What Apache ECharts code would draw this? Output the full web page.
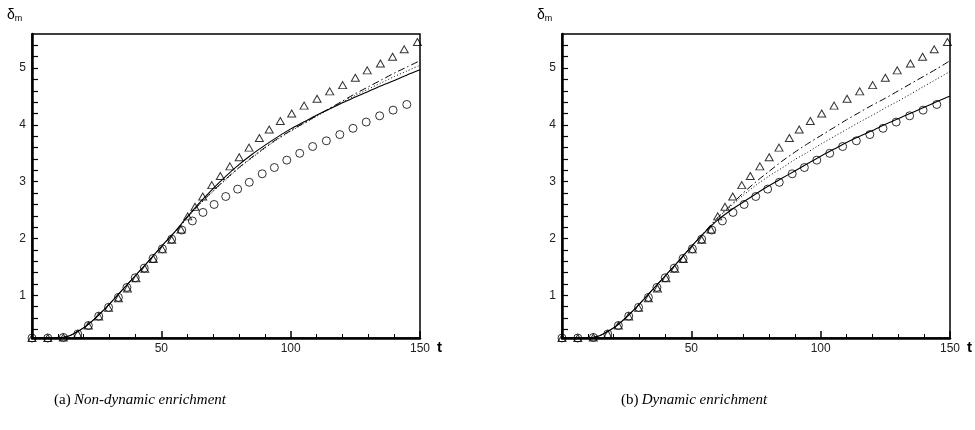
<!DOCTYPE html>
<html>
<head>
<meta charset="utf-8">
<script src="https://cdn.jsdelivr.net/npm/echarts@6/dist/echarts.min.js"></script>
<style>html,body{margin:0;padding:0;background:#fff;}#c{width:975px;height:430px;}</style>
</head>
<body>
<div id="c"></div>
<script>
// ---- data ----
const tLine = [0,5,10,12,15,20,25,30,35,40,45,50,55,60,65,70,75,80,85,90,95,100,105,110,115,120,125,130,135,140,145,150];
// (a) Non-dynamic enrichment
const aSolid   = [0.25,0.25,0.25,0.26,0.30,0.43,0.62,0.85,1.10,1.35,1.60,1.86,2.11,2.38,2.64,2.88,3.10,3.30,3.48,3.64,3.79,3.93,4.05,4.17,4.28,4.39,4.49,4.59,4.69,4.78,4.88,4.97];
const aDotted  = [0.25,0.25,0.25,0.26,0.30,0.43,0.62,0.85,1.10,1.35,1.60,1.86,2.10,2.36,2.61,2.83,3.04,3.24,3.42,3.59,3.75,3.89,4.02,4.15,4.28,4.40,4.52,4.63,4.74,4.85,4.95,5.05];
const aDashDot = [0.25,0.25,0.25,0.26,0.30,0.43,0.62,0.85,1.10,1.35,1.60,1.86,2.10,2.37,2.62,2.84,3.05,3.25,3.43,3.60,3.76,3.90,4.03,4.16,4.29,4.42,4.55,4.67,4.79,4.91,5.02,5.13];
// (b) Dynamic enrichment
const bSolid   = [0.25,0.25,0.25,0.26,0.30,0.43,0.62,0.85,1.10,1.35,1.60,1.86,2.10,2.32,2.49,2.64,2.79,2.93,3.06,3.19,3.32,3.45,3.57,3.69,3.80,3.90,4.01,4.11,4.21,4.31,4.41,4.51];
const bDotted  = [0.25,0.25,0.25,0.26,0.30,0.43,0.62,0.85,1.10,1.35,1.60,1.86,2.11,2.35,2.56,2.76,2.94,3.10,3.24,3.39,3.52,3.66,3.79,3.92,4.05,4.17,4.30,4.42,4.55,4.68,4.81,4.94];
const bDashDot = [0.25,0.25,0.25,0.26,0.30,0.43,0.62,0.85,1.10,1.35,1.60,1.86,2.11,2.36,2.58,2.80,3.00,3.18,3.36,3.52,3.67,3.81,3.95,4.09,4.22,4.35,4.47,4.60,4.73,4.86,4.99,5.13];
// reference symbols (same in both panels)
const circT = [0,6.1,12.1,17.7,21.8,25.8,29.6,33.4,36.7,39.9,43.4,46.8,50.4,54.0,57.9,62.0,66.1,70.4,74.9,79.5,84.0,89.0,93.7,98.5,103.5,108.5,113.8,119.0,124.1,129.2,134.4,139.6,144.9];
const circV = [0.25,0.25,0.26,0.32,0.47,0.635,0.79,0.965,1.14,1.31,1.48,1.65,1.82,1.99,2.15,2.31,2.46,2.60,2.74,2.87,2.99,3.14,3.25,3.38,3.50,3.62,3.72,3.83,3.94,4.05,4.16,4.26,4.36];
const triT  = [0,6.1,12.1,17.7,21.8,25.8,29.6,33.4,36.9,40.2,43.6,46.9,50.4,54.0,57.6,60.2,63.0,66.0,69.5,72.8,76.5,80.1,83.9,87.9,91.7,96.0,100.4,105.2,110.2,115.1,120.1,125.0,129.6,134.7,139.4,143.9,149.0];
const triV  = [0.25,0.25,0.26,0.32,0.47,0.63,0.78,0.95,1.12,1.30,1.47,1.64,1.81,1.98,2.16,2.39,2.56,2.74,2.94,3.10,3.27,3.43,3.60,3.77,3.92,4.07,4.20,4.34,4.46,4.59,4.70,4.83,4.96,5.08,5.20,5.33,5.46];
// axis ticks
const xMin = 0, xMax = 150, xStep = 50;
const yMin = 0.25, yMax = 5.6;
const yMajor = [1,2,3,4,5];
const yTicks = [0.4,0.6,0.8,1,1.2,1.4,1.6,1.8,2,2.2,2.4,2.6,2.8,3,3.2,3.4,3.6,3.8,4,4.2,4.4,4.6,4.8,5,5.2,5.4];
const captions = ['Non-dynamic enrichment','Dynamic enrichment'];
const tags = ['(a)','(b)'];

// ---- chart ----
const zip = (a,b) => a.map((v,i)=>[v,b[i]]);
const panels = [
  {solid:aSolid, dotted:aDotted, dashdot:aDashDot},
  {solid:bSolid, dotted:bDotted, dashdot:bDashDot}
];
const gridLefts = [32, 562];
const labelFont = 'Liberation Sans, Arial, sans-serif';

const grids = [], xAxes = [], yAxes = [], series = [];
panels.forEach((p, k) => {
  grids.push({left: gridLefts[k], top: 34, width: 388, height: 304, show: true,
    borderColor: '#000', borderWidth: 1.5, backgroundColor: 'transparent'});
  xAxes.push({gridIndex: k, type: 'value', min: xMin, max: xMax, interval: xStep,
    name: 't', nameLocation: 'end', nameGap: 17,
    nameTextStyle: {fontFamily: labelFont, fontSize: 15, fontWeight: 'bold', color: '#000', verticalAlign: 'top', padding: [2,0,0,0]},
    axisLine: {show: true, onZero: false, lineStyle: {color: '#000', width: 2.5}},
    axisTick: {show: true, inside: true, length: 7, lineStyle: {color: '#000', width: 1.5}},
    minorTick: {show: true, splitNumber: 5, length: 4, lineStyle: {color: '#000', width: 1}},
    axisLabel: {fontFamily: labelFont, fontSize: 12, color: '#222', margin: 5,
      formatter: v => (v === 0 ? '' : String(v))},
    splitLine: {show: false}, minorSplitLine: {show: false}
  });
  yAxes.push({gridIndex: k, type: 'value', min: yMin, max: yMax,
    axisLine: {show: true, onZero: false, lineStyle: {color: '#000', width: 2.5}},
    axisTick: {show: true, inside: true, length: 6, customValues: yTicks, lineStyle: {color: '#000', width: 1.2}},
    axisLabel: {show: true, customValues: yMajor, fontFamily: labelFont, fontSize: 12, color: '#222', margin: 6},
    splitLine: {show: false}
  });
  const base = {type: 'line', xAxisIndex: k, yAxisIndex: k, showSymbol: false, symbol: 'none', smooth: 0.25, silent: true, z: 3};
  series.push(Object.assign({}, base, {data: zip(tLine, p.solid), lineStyle: {color: '#000', width: 1.1, type: 'solid'}}));
  series.push(Object.assign({}, base, {data: zip(tLine, p.dotted), lineStyle: {color: '#000', width: 1, type: [1, 2.2]}}));
  series.push(Object.assign({}, base, {data: zip(tLine, p.dashdot), lineStyle: {color: '#000', width: 1, type: [7, 3, 1.5, 3]}}));
  series.push({type: 'scatter', xAxisIndex: k, yAxisIndex: k, data: zip(circT, circV), symbol: 'circle', symbolSize: 8,
    itemStyle: {color: 'rgba(0,0,0,0)', borderColor: '#000', borderWidth: 1}, silent: true, z: 2});
  series.push({type: 'scatter', xAxisIndex: k, yAxisIndex: k, data: zip(triT, triV), symbol: 'triangle', symbolSize: [8, 7],
    itemStyle: {color: 'rgba(0,0,0,0)', borderColor: '#000', borderWidth: 1}, silent: true, z: 2});
});

const graphics = [];
[0,1].forEach(k => {
  graphics.push({type: 'text', left: gridLefts[k] - 25, top: 8,
    style: {text: '{d|δ}{s|m}', rich: {
      d: {fontFamily: labelFont, fontSize: 14, fill: '#000'},
      s: {fontFamily: labelFont, fontSize: 9, fill: '#000', padding: [8,0,0,0]}
    }}});
});
const capCenters = [140, 694];
[0,1].forEach(k => {
  graphics.push({type: 'text', x: capCenters[k], y: 400,
    style: {text: '{r|' + tags[k] + '} {i|' + captions[k] + '}', textAlign: 'center', textVerticalAlign: 'middle',
      rich: {
        r: {fontFamily: 'Liberation Serif, DejaVu Serif, serif', fontSize: 15, fill: '#000'},
        i: {fontFamily: 'Liberation Serif, DejaVu Serif, serif', fontSize: 15, fontStyle: 'italic', fill: '#000'}
      }}});
});

const chart = echarts.init(document.getElementById('c'), null, {renderer: 'canvas'});
chart.setOption({
  animation: false,
  backgroundColor: '#fff',
  grid: grids, xAxis: xAxes, yAxis: yAxes, series: series, graphic: graphics
});
</script>
</body>
</html>
